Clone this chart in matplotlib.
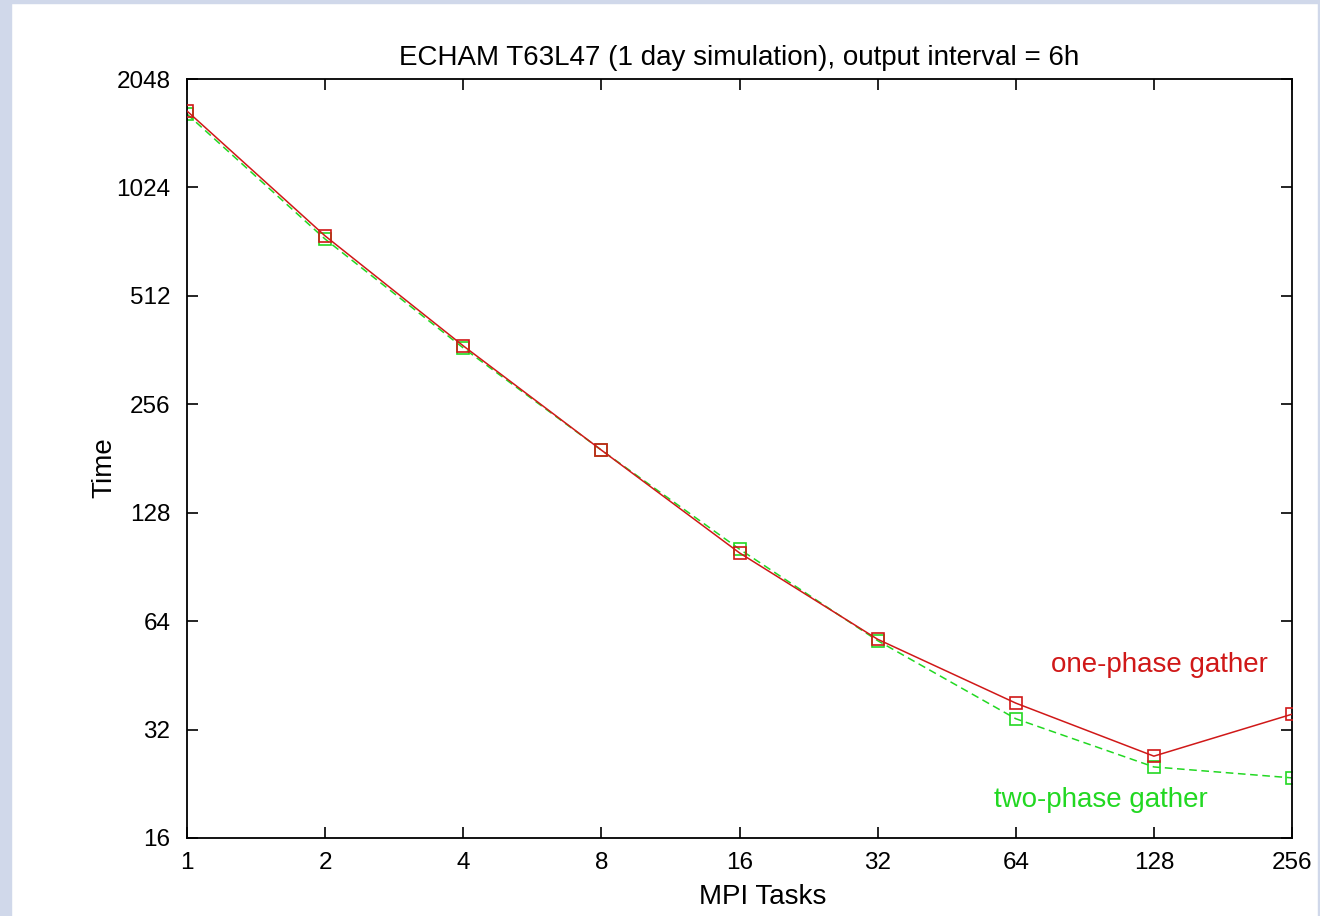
import numpy as np
import matplotlib.pyplot as plt
from matplotlib.patches import Rectangle
from matplotlib.ticker import FixedLocator, NullLocator

plt.rcParams['font.family'] = ['Liberation Sans', 'DejaVu Sans']

# Data
mpi_tasks = [1, 2, 4, 8, 16, 32, 64, 128, 256]
one_phase = [1669, 751, 372, 191, 99.0, 57.0, 37.9, 27.0, 35.3]
two_phase = [1637, 736, 367, 191, 101.4, 56.5, 34.3, 25.2, 23.5]
y_ticks = [16, 32, 64, 128, 256, 512, 1024, 2048]

red = '#d01818'
green = '#22d822'

fig = plt.figure(figsize=(13.2, 9.16), dpi=100, facecolor='white')
W, H = 1320, 916

# light frame strips around the screenshot
bg = '#d0d8ea'
fig.patches.append(Rectangle((0, 0), 11 / W, 1, transform=fig.transFigure, color=bg, zorder=0))
fig.patches.append(Rectangle((0, 1 - 3 / H), 1, 3 / H, transform=fig.transFigure, color=bg, zorder=0))
fig.patches.append(Rectangle((1 - 2 / W, 0), 2 / W, 1, transform=fig.transFigure, color=bg, zorder=0))

ax = fig.add_axes([187 / W, (H - 838) / H, (1292 - 187) / W, (838 - 79) / H])

ax.plot(mpi_tasks, one_phase, color=red, linewidth=1.1, marker='s', markersize=9,
        markerfacecolor='none', markeredgecolor=red, markeredgewidth=1.2, zorder=3)
ax.plot(mpi_tasks, two_phase, color=green, linewidth=1.1, linestyle=(0, (5, 3)), marker='s',
        markersize=9, markerfacecolor='none', markeredgecolor=green, markeredgewidth=1.2, zorder=2)

ax.set_xscale('log', base=2)
ax.set_yscale('log', base=2)
ax.set_xlim(1, 256)
ax.set_ylim(16, 2048)

ax.xaxis.set_major_locator(FixedLocator(mpi_tasks))
ax.yaxis.set_major_locator(FixedLocator(y_ticks))
ax.xaxis.set_minor_locator(NullLocator())
ax.yaxis.set_minor_locator(NullLocator())
ax.set_xticklabels([str(v) for v in mpi_tasks])
ax.set_yticklabels([str(v) for v in y_ticks])

ax.tick_params(which='major', direction='in', length=8, width=1.2, top=True, right=True,
               labelsize=17.5)
ax.tick_params(axis='x', pad=10)
ax.tick_params(axis='y', pad=12)
for s in ax.spines.values():
    s.set_linewidth(1.3)

ax.set_title('ECHAM T63L47 (1 day simulation), output interval = 6h', fontsize=20, pad=10)
ax.set_xlabel('MPI Tasks', fontsize=20)
ax.set_ylabel('Time', fontsize=20)
ax.xaxis.set_label_coords(0.521, -0.060)
ax.yaxis.set_label_coords(-0.063, 0.4875)

ax.text(0.978, 0.228, 'one-phase gather', color=red, fontsize=20, ha='right', va='center',
        transform=ax.transAxes)
ax.text(0.924, 0.050, 'two-phase gather', color=green, fontsize=20, ha='right', va='center',
        transform=ax.transAxes)

plt.savefig('out.png', dpi=100)
plt.close()
